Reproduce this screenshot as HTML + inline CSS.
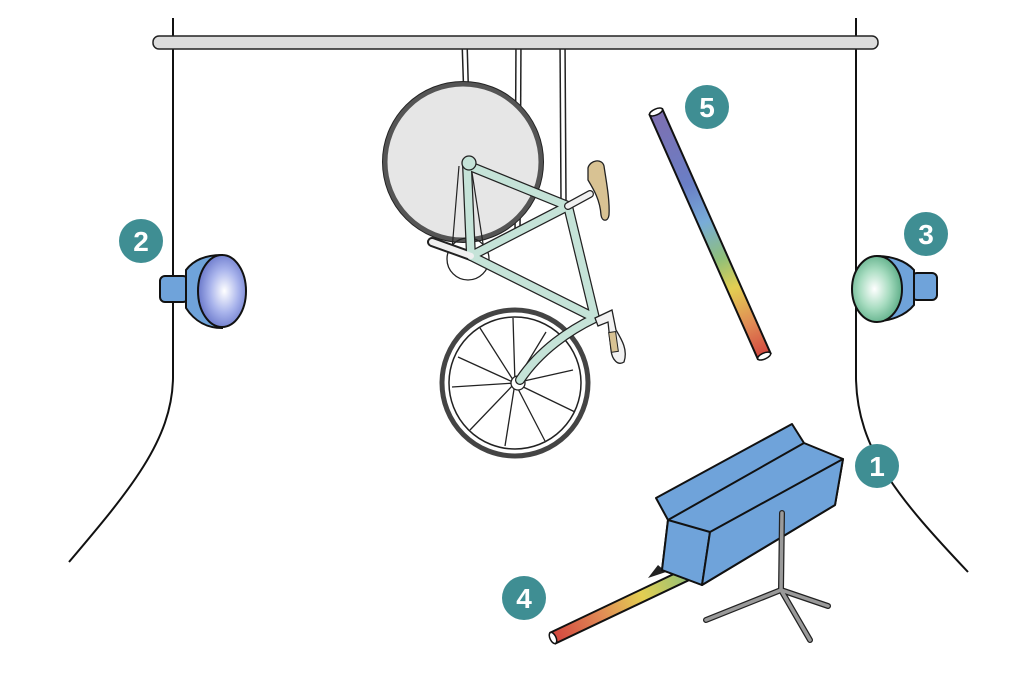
<!DOCTYPE html>
<html><head><meta charset="utf-8"><style>
html,body{margin:0;padding:0;background:#fff;width:1024px;height:674px;overflow:hidden}
svg{display:block}
</style></head><body>
<svg width="1024" height="674" viewBox="0 0 1024 674" xmlns="http://www.w3.org/2000/svg">
<defs>
<linearGradient id="t5" x1="0" y1="0" x2="1" y2="0">
<stop offset="0" stop-color="#7e6fb0"/><stop offset="0.3" stop-color="#6a7fc6"/><stop offset="0.45" stop-color="#78acd8"/><stop offset="0.6" stop-color="#8fbf7a"/><stop offset="0.72" stop-color="#e3cf52"/><stop offset="0.87" stop-color="#e08a55"/><stop offset="1" stop-color="#d3463f"/>
</linearGradient>
<linearGradient id="t4" x1="0" y1="0" x2="1" y2="0">
<stop offset="0" stop-color="#d3463f"/><stop offset="0.35" stop-color="#e08a55"/><stop offset="0.65" stop-color="#e3cf52"/><stop offset="1" stop-color="#8fbf7a"/>
</linearGradient>
<radialGradient id="g2" cx="0.55" cy="0.5" r="0.6"><stop offset="0" stop-color="#ffffff"/><stop offset="0.5" stop-color="#a9b4ec"/><stop offset="1" stop-color="#5d6cc4"/></radialGradient>
<radialGradient id="g3" cx="0.45" cy="0.5" r="0.6"><stop offset="0" stop-color="#ffffff"/><stop offset="0.5" stop-color="#a7dcc0"/><stop offset="1" stop-color="#4fa57d"/></radialGradient>
</defs>

<path d="M173 18 L173 378 C172 440 130 490 69 562" fill="none" stroke="#111" stroke-width="2"/>
<path d="M856 18 L856 378 C857 450 900 500 968 572" fill="none" stroke="#111" stroke-width="2"/>

<g stroke="#222" stroke-width="1.5" fill="none">
<line x1="462" y1="40" x2="469" y2="252"/><line x1="467" y1="40" x2="473" y2="252"/>
<line x1="516" y1="40" x2="515" y2="235"/><line x1="521" y1="40" x2="520" y2="232"/>
<line x1="560" y1="40" x2="561" y2="200"/><line x1="565" y1="40" x2="566" y2="200"/>
</g>

<rect x="153" y="36" width="725" height="13" rx="6" fill="#dcdcdc" stroke="#222" stroke-width="1.5"/>

<circle cx="463" cy="162" r="78" fill="#e6e6e6" stroke="#555" stroke-width="5"/>
<circle cx="463" cy="162" r="80.5" fill="none" stroke="#222" stroke-width="1"/>
<circle cx="515" cy="383" r="73" fill="#fff" stroke="#444" stroke-width="5"/>
<circle cx="515" cy="383" r="66" fill="none" stroke="#222" stroke-width="1.5"/>
<g stroke="#222" stroke-width="1.3">
<line x1="515" y1="383" x2="513" y2="318"/><line x1="515" y1="383" x2="480" y2="328"/>
<line x1="515" y1="383" x2="458" y2="357"/><line x1="515" y1="383" x2="452" y2="387"/>
<line x1="515" y1="383" x2="470" y2="430"/><line x1="515" y1="383" x2="505" y2="446"/>
<line x1="515" y1="383" x2="545" y2="441"/><line x1="515" y1="383" x2="575" y2="412"/>
<line x1="515" y1="383" x2="573" y2="370"/><line x1="515" y1="383" x2="546" y2="332"/>
</g>
<circle cx="518" cy="383" r="7" fill="#fff" stroke="#222" stroke-width="1.3"/>

<circle cx="468" cy="259" r="21" fill="none" stroke="#222" stroke-width="1.3"/>
<line x1="452" y1="250" x2="459" y2="166" stroke="#222" stroke-width="1.2"/>
<line x1="484" y1="250" x2="471" y2="166" stroke="#222" stroke-width="1.2"/>

<g stroke="#222" stroke-width="10" stroke-linecap="round" fill="none">
<line x1="467" y1="165" x2="568" y2="206"/>
<line x1="467" y1="165" x2="471" y2="256"/>
<line x1="471" y1="256" x2="568" y2="206"/>
<line x1="471" y1="256" x2="595" y2="318"/>
<line x1="568" y1="206" x2="595" y2="318"/>
<path d="M595 318 C570 330 540 350 520 380"/>
<line x1="432" y1="242" x2="471" y2="256"/>
</g>
<g stroke="#c5e3d8" stroke-width="7.5" stroke-linecap="round" fill="none">
<line x1="467" y1="165" x2="568" y2="206"/>
<line x1="467" y1="165" x2="471" y2="256"/>
<line x1="471" y1="256" x2="568" y2="206"/>
<line x1="471" y1="256" x2="595" y2="318"/>
<line x1="568" y1="206" x2="595" y2="318"/>
<path d="M595 318 C570 330 540 350 520 380"/>
</g>
<line x1="432" y1="242" x2="471" y2="256" stroke="#f0f0f0" stroke-width="6" stroke-linecap="round"/>
<circle cx="469" cy="163" r="7" fill="#c5e3d8" stroke="#222" stroke-width="1.3"/>
<line x1="568" y1="206" x2="590" y2="194" stroke="#222" stroke-width="8" stroke-linecap="round"/>
<line x1="568" y1="206" x2="590" y2="194" stroke="#f0f0f0" stroke-width="5.5" stroke-linecap="round"/>
<path d="M588 168 C590 160 602 158 604 166 C606 180 610 200 609 215 C608 222 602 222 601 215 C600 200 594 190 588 180 Z" fill="#d8c293" stroke="#222" stroke-width="1.3"/>
<path d="M595 318 L612 310 L616 330 C622 340 628 350 624 362 C618 366 612 360 611 350 L608 322 L598 326 Z" fill="#f2f2f2" stroke="#222" stroke-width="1.3"/>
<rect x="610" y="332" width="7" height="20" fill="#d8c293" stroke="#222" stroke-width="1" transform="rotate(-8 613 342)"/>

<g transform="translate(656 112) rotate(66.1)">
<rect x="0" y="-7" width="267" height="14" fill="url(#t5)" stroke="#111" stroke-width="2"/>
<ellipse cx="0" cy="0" rx="3" ry="7" fill="#fff" stroke="#111" stroke-width="1.5"/>
<ellipse cx="267" cy="0" rx="3" ry="7" fill="#fff" stroke="#111" stroke-width="1.5"/>
</g>

<g transform="translate(553 638) rotate(-25.4)">
<rect x="0" y="-6" width="152" height="12" fill="url(#t4)" stroke="#111" stroke-width="2"/>
<ellipse cx="0" cy="0" rx="3" ry="6" fill="#fff" stroke="#111" stroke-width="1.5"/>
</g>
<path d="M648 578 L658 565 L666 572 Z" fill="#222"/>

<g fill="#6fa3da" stroke="#111" stroke-width="2" stroke-linejoin="round">
<path d="M656 498 L792 424 L804 443 L843 459 L835 505 L702 585 L662 570 L668 520 Z"/>
<path d="M668 520 L710 532 L702 585 L662 570 Z"/>
<path d="M710 532 L843 459 L835 505 L702 585 Z"/>
<line x1="668" y1="520" x2="804" y2="443"/>
</g>

<g stroke="#222" stroke-width="6" stroke-linecap="round" fill="none">
<line x1="782" y1="513" x2="781" y2="590"/><line x1="781" y1="590" x2="706" y2="620"/>
<line x1="781" y1="590" x2="828" y2="606"/><line x1="781" y1="590" x2="810" y2="640"/>
</g>
<g stroke="#9a9a9a" stroke-width="3.5" stroke-linecap="round" fill="none">
<line x1="782" y1="513" x2="781" y2="590"/><line x1="781" y1="590" x2="706" y2="620"/>
<line x1="781" y1="590" x2="828" y2="606"/><line x1="781" y1="590" x2="810" y2="640"/>
</g>

<rect x="160" y="276" width="28" height="26" rx="5" fill="#6fa3da" stroke="#111" stroke-width="2"/>
<path d="M186 270 C195 258 210 255 222 255 L222 328 C208 328 195 322 186 308 Z" fill="#6fa3da" stroke="#111" stroke-width="2"/>
<ellipse cx="222" cy="291" rx="24" ry="36" fill="url(#g2)" stroke="#111" stroke-width="2"/>

<rect x="912" y="273" width="25" height="27" rx="5" fill="#6fa3da" stroke="#111" stroke-width="2"/>
<path d="M914 270 C905 260 890 256 877 256 L877 321 C890 321 905 316 914 305 Z" fill="#6fa3da" stroke="#111" stroke-width="2"/>
<ellipse cx="877" cy="289" rx="25" ry="33" fill="url(#g3)" stroke="#111" stroke-width="2"/>

<g font-family="Liberation Sans, sans-serif" font-weight="bold" font-size="28" fill="#fff" text-anchor="middle">
<circle cx="877" cy="466" r="22" fill="#3f8e93"/><text x="877" y="476">1</text>
<circle cx="141" cy="241" r="22" fill="#3f8e93"/><text x="141" y="251">2</text>
<circle cx="926" cy="234" r="22" fill="#3f8e93"/><text x="926" y="244">3</text>
<circle cx="524" cy="598" r="22" fill="#3f8e93"/><text x="524" y="608">4</text>
<circle cx="707" cy="107" r="22" fill="#3f8e93"/><text x="707" y="117">5</text>
</g>
</svg>
</body></html>
